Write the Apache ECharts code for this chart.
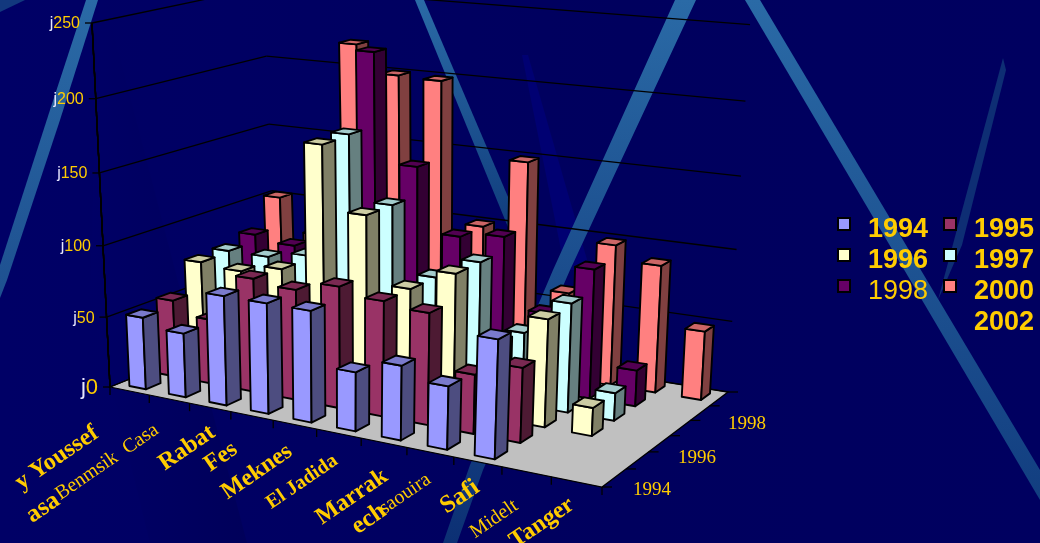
<!DOCTYPE html>
<html><head><meta charset="utf-8">
<style>html,body{margin:0;padding:0;background:#000066}#c{width:1040px;height:543px}</style>
<script src="https://cdn.jsdelivr.net/npm/echarts@6/dist/echarts.min.js"></script>
</head><body><div id="c"></div>
<script>
// ---- data ----
const cities = ['Hay Youssef Casa','Benmsik Casa','Rabat','Fes','Meknes','El Jadida','Marrakech','Essaouira','Safi','Midelt','Tanger'];
const yTicks = [0,50,100,150,200,250];
const years = ['1994','1995','1996','1997','1998','2000'];
const v1994 = [51,45,76,76,76,40,50,42,78,null,null];
const v1995 = [55,46,80,77,84,79,76,40,50,null,null];
const v1996 = [75,73,79,169,125,79,94,52,73,19,null];
const v1997 = [76,76,81,170,125,79,94,50,75,19,null];
const v1998 = [81,77,88,221,145,100,104,55,90,25,null];
const v2000 = [102,78,219,200,199,100,149,61,99,89,48];
const rows = [v1994,v1995,v1996,v1997,v1998,v2000];
const colors = ['#9999FF','#993366','#FFFFCC','#CCFFFF','#660066','#FF8080'];
const depthLabels = ['1994','1996','1998'];
// visible axis label pieces
const labelTexts = ['y Youssef','asa','Benmsik  Casa','Rabat','Fes','Meknes','El Jadida','Marrak','ech','saouira','Safi','Midelt','Tanger'];
const labelBold  = [1,1,0,1,1,1,1,1,1,0,1,0,1];
// ---- layout ----
const labelSize  = [24,25,20,24,24,24,20,24,25,20,25,20,24];
const labelPlace = [[57,458],[43,508],[107,462],[187,448],[221,457],[257,472],[302,482],[352,497],[369,519],[405,494],[460,497],[494,519],[542,523]];
const depthPlace = [[633,490],[678,458],[728,424]];
const W=1040,H=543,GOLD='#FFCC00';
const FLOOR=[[110,387],[602,487],[728,392],[276,320]];
const LEAN=[-18,34.7,4.3];   // top-of-axis x shift, linear in u,v
const RISE=[364,-30,16];     // top-of-axis height, linear in u,v
const USKEW=0.068;           // evens out the category spacing along the floor
const TSKEW=0.05;            // the value scale is a little tighter near the floor
function homo(q){
  const [p0,p1,p2,p3]=q;
  const dx1=p1[0]-p2[0],dy1=p1[1]-p2[1],dx2=p3[0]-p2[0],dy2=p3[1]-p2[1];
  const sx=p0[0]-p1[0]+p2[0]-p3[0],sy=p0[1]-p1[1]+p2[1]-p3[1];
  const d=dx1*dy2-dx2*dy1,g=(sx*dy2-dx2*sy)/d,h=(dx1*sy-sx*dy1)/d;
  const a=p1[0]-p0[0]+g*p1[0],b=p3[0]-p0[0]+h*p3[0],c=p0[0];
  const e=p1[1]-p0[1]+g*p1[1],f=p3[1]-p0[1]+h*p3[1],k=p0[1];
  return (u0,v,t0)=>{const u=u0+USKEW*u0*(1-u0),w=g*u+h*v+1,t=t0-TSKEW*t0*(1-t0);
    const lx=LEAN[0]+LEAN[1]*u+LEAN[2]*v, ry=RISE[0]+RISE[1]*u+RISE[2]*v;
    return [(a*u+b*v+c+t*lx)/w,(e*u+f*v+k-t*ry)/w];};
}
const P=homo(FLOOR);
function shade(hex,m){const n=parseInt(hex.slice(1),16);
  return 'rgb('+[(n>>16)&255,(n>>8)&255,n&255].map(c=>Math.round(c*m)).join(',')+')';}
const LW=1.9,BARW=0.42,BARD=0.48;
function poly(points,fill){return {type:'polygon',shape:{points},style:{fill,stroke:'#000',lineWidth:LW,lineJoin:'round'}};}
function barSeries(ri){
  return {type:'custom',name:years[ri],coordinateSystem:'cartesian2d',clip:false,silent:true,
    itemStyle:{color:colors[ri],borderColor:'#000',borderWidth:1.5},
    data:rows[ri].map((v,i)=>[i,v]).filter(d=>d[1]!=null),
    renderItem(params,api){
      const c=api.coord([api.value(0),api.value(1)]),bw=api.size([1,0])[0];
      const u0=(c[0]-bw*BARW/2)/W,u1=(c[0]+bw*BARW/2)/W;
      const v0=(ri+(1-BARD)/2)/6,v1=(ri+(1+BARD)/2)/6,h=(H-c[1])/H;
      const col=colors[ri];
      return {type:'group',children:[
        poly([P(u0,v0,0),P(u1,v0,0),P(u1,v0,h),P(u0,v0,h)],col),
        poly([P(u1,v0,0),P(u1,v1,0),P(u1,v1,h),P(u1,v0,h)],shade(col,0.5)),
        poly([P(u0,v0,h),P(u1,v0,h),P(u1,v1,h),P(u0,v1,h)],shade(col,0.8))
      ]};
    }};
}
const line=(a,b)=>({type:'line',shape:{x1:a[0],y1:a[1],x2:b[0],y2:b[1]},style:{stroke:'#000',lineWidth:1.3}});
const wall={type:'custom',silent:true,clip:false,z:1,data:yTicks.map(t=>[0,t]),
  renderItem(p,api){
    const c=api.coord([0,api.value(1)]),h=(H-c[1])/H;
    const a=P(0,0,h),b=P(0,1,h),d=P(1,1,h);
    const fs=h?16:22;
    return {type:'group',children:[
      line(a,b),line(b,d),line(a,[a[0]-7,a[1]]),
      line(P(0,0,0),P(0,0,1)),
      {type:'text',x:a[0]-12,y:a[1]+1,style:{text:'{j|j}{d|'+api.value(1)+'}',align:'right',verticalAlign:'middle',
        rich:{j:{fill:'#E6E6FF',font:fs+'px "Liberation Sans"'},d:{fill:GOLD,font:fs+'px "Liberation Sans"'}}}}
    ]};
  }};
const floor={type:'custom',silent:true,clip:false,z:1,data:[[0,0]],
  renderItem(){
    const ch=[{type:'polygon',shape:{points:[P(0,0,0),P(1,0,0),P(1,1,0),P(0,1,0)]},style:{fill:'#C0C0C0',stroke:'#000',lineWidth:1.2}}];
    cities.concat(['']).forEach((_,i)=>{const a=P(i/cities.length,0,0);ch.push(line(a,[a[0],a[1]+8]));});
    for(let r=0;r<=years.length;r++){const a=P(1,r/years.length,0);ch.push(line(a,[a[0]+10,a[1]]));}
    depthLabels.forEach((t,i)=>{const a=depthPlace[i];
      ch.push({type:'text',x:a[0],y:a[1],style:{text:t,fill:GOLD,font:'19px "Liberation Serif"',align:'left',verticalAlign:'middle'}});});
    return {type:'group',children:ch};
  }};
const texts={type:'custom',silent:true,clip:false,z:1,data:labelTexts.map((t,i)=>[0,i]),
  renderItem(p,api){
    const i=api.value(1),q=labelPlace[i];
    return {type:'text',x:q[0],y:q[1],rotation:0.6,style:{text:labelTexts[i],fill:GOLD,
      font:(labelBold[i]?'bold ':'')+labelSize[i]+'px "Liberation Serif"',align:'center',verticalAlign:'middle'}};
  }};
const streak=(pts,col)=>({type:'polygon',silent:true,z:-5,shape:{points:pts},style:{fill:col}});
const lg=(x1,y1,x2,y2,a,b)=>new echarts.graphic.LinearGradient(x1,y1,x2,y2,[{offset:0,color:a},{offset:1,color:b}]);
const graphic=[
  {type:'rect',silent:true,z:-9,shape:{x:0,y:0,width:W,height:H},style:{fill:new echarts.graphic.LinearGradient(0,0,1,0,[{offset:0,color:'#000066'},{offset:.6,color:'#00005E'},{offset:1,color:'#000060'}])}},
  streak([[98,0],[105,0],[175,270],[247,543],[150,543],[90,300]],lg(1,0,0,0,'#00005A','#000066')),
  streak([[522,55],[528,55],[590,270],[565,270]],'#000072'),
  streak([[0,0],[25,0],[0,12]],'#12387E'),
  streak([[86,0],[98,0],[60,120],[7,280],[0,298],[0,265],[50,110]],lg(0,0,0,1,'#2A6AA6','#1E5090')),
  streak([[415,0],[424,0],[520,225],[510,232]],lg(0,0,0,1,'#2A6AA6','#103C7C')),
  streak([[675,0],[696,0],[570,270],[483,470],[457,543],[443,543],[470,465],[553,270]],lg(0,0,0,1,'#2A6AA6','#0C3074')),
  streak([[745,0],[760,0],[1040,470],[1040,500]],lg(0,0,0,1,'#2A6AA6','#123E80')),
  streak([[1003,58],[1006,70],[962,245],[938,300]],'#0E2E74'),
];
const ICON='path://M0 0H12V12H0ZM0 24';
const leg=(left,names)=>({show:true,orient:'vertical',left,top:210,itemWidth:12,itemHeight:24,itemGap:1,selectedMode:false,icon:ICON,
  textStyle:{color:GOLD,fontFamily:'Liberation Sans',fontSize:27,fontWeight:'bold',lineHeight:30,padding:[0,0,0,13]},
  data:names});
const blank={color:'transparent',borderColor:'transparent',borderWidth:0};
const legend=[
  leg(832,['1994','1996',{name:'1998',textStyle:{fontWeight:'normal'}}]),
  leg(938,['1995','1997','2000',{name:'2002',itemStyle:blank}])
];
const series=[floor,wall,texts];
for(let r=years.length-1;r>=0;r--) series.push(barSeries(r));
series.push({type:'custom',name:'2002',data:[],itemStyle:{color:'transparent'},renderItem(){return null;}});
const chart=echarts.init(document.getElementById('c'),null,{renderer:'canvas',width:W,height:H});
chart.setOption({animation:false,backgroundColor:'#000066',graphic,legend,
  grid:{left:0,right:0,top:0,bottom:0},
  xAxis:{type:'category',data:cities,show:false},
  yAxis:{type:'value',min:0,max:250,interval:50,show:false,splitLine:{show:false}},
  series});
</script></body></html>
